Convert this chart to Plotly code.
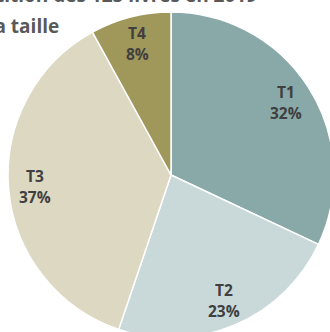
import math
import plotly.graph_objects as go

# ---- data ----
categories = ["T1", "T2", "T3", "T4"]
counts = [40, 29, 46, 10]          # 125 livres
colors = ["#89a9a8", "#c9d9d9", "#ddd8c1", "#a0975b"]
title_line1 = "Répartition des 125 livres en 2019"
title_line2 = "selon la taille"

W, H = 334, 338
ML, MT = 8, 12
PW, PH = W - ML, H - MT
FONT = "Open Sans"

fig = go.Figure(go.Pie(
    labels=categories,
    values=counts,
    sort=False,
    direction="clockwise",
    rotation=0,
    marker=dict(colors=colors, line=dict(color="white", width=1.5)),
    textinfo="none",
    hoverinfo="label+percent",
    showlegend=False,
    domain=dict(x=[0, 1], y=[0, 1]),
))

total = sum(counts)
cum = 0
LBL_R = 0.835
for cat, v in zip(categories, counts):
    mid = (cum + v / 2) / total * 2 * math.pi
    cum += v
    cx = 0.5 + LBL_R * 0.5 * math.sin(mid)
    cy = 0.5 + LBL_R * 0.5 * math.cos(mid)
    pct = round(v / total * 100)
    for txt, dy in ((cat, 10.5), (f"{pct}%", -10.5)):
        fig.add_annotation(
            x=cx, y=cy + dy / PH, xref="paper", yref="paper",
            text=txt, showarrow=False, xanchor="center", yanchor="middle",
            font=dict(family=FONT, size=15.5, color="#404040", weight="bold"),
        )

def px_x(X):
    return (X - ML) / PW

def px_y(Y):
    return (H - Y) / PH

fig.add_annotation(
    x=px_x(259), y=px_y(-5), xref="paper", yref="paper", text=title_line1,
    showarrow=False, xanchor="right", yanchor="middle",
    font=dict(family=FONT, size=19, color="#595959", weight="bold"),
)
fig.add_annotation(
    x=px_x(61), y=px_y(26), xref="paper", yref="paper", text=title_line2,
    showarrow=False, xanchor="right", yanchor="middle",
    font=dict(family=FONT, size=19, color="#595959", weight="bold"),
)

fig.update_layout(
    width=W, height=H,
    margin=dict(l=ML, r=0, t=MT, b=0, pad=0),
    paper_bgcolor="white", plot_bgcolor="white",
)

fig.write_html(
    "out.html",
    post_script="document.documentElement.style.overflow='hidden';document.body.style.overflow='hidden';document.body.style.margin='0';",
)
